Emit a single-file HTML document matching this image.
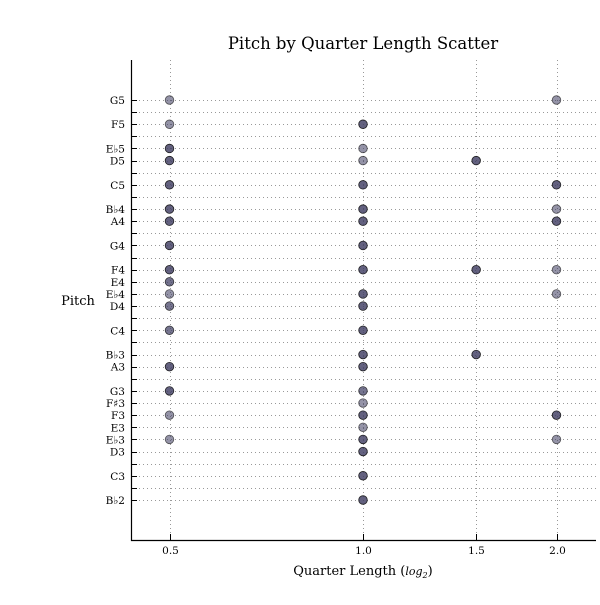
<!DOCTYPE html>
<html><head><meta charset="utf-8"><style>
body{margin:0;background:#fff}
text{font-family:"DejaVu Serif","Liberation Serif",serif;fill:#000}
</style></head><body>
<svg id="chart" width="600" height="600">
<text x="363" y="49" font-size="16.5" text-anchor="middle">Pitch by Quarter Length Scatter</text>
<text x="78" y="305" font-size="13" text-anchor="middle">Pitch</text>
<text x="363" y="575" font-size="13" text-anchor="middle">Quarter Length (<tspan font-style="italic" font-size="11">log</tspan><tspan font-style="italic" font-size="8" dy="3">2</tspan><tspan dy="-3">)</tspan></text>
<g id="grid"></g><g id="pts"></g><g id="axes"></g>
</svg>
<script>
const xTicks=[0.5,1.0,1.5,2.0];
const xTickLabels=["0.5","1.0","1.5","2.0"];
const pitchMidi=[79,77,75,74,72,70,69,67,65,64,63,62,60,58,57,55,54,53,52,51,50,48,46];
const pitchNames=["G5","F5","E♭5","D5","C5","B♭4","A4","G4","F4","E4","E♭4","D4","C4","B♭3","A3","G3","F♯3","F3","E3","E♭3","D3","C3","B♭2"];
const pointPitch=[79,79,77,77,75,75,74,74,74,72,72,72,70,70,70,69,69,69,67,67,65,65,65,65,64,63,63,63,62,62,60,60,58,58,57,57,55,55,54,53,53,53,52,51,51,51,50,48,46];
const pointQL=[0.5,2,0.5,1,0.5,1,0.5,1,1.5,0.5,1,2,0.5,1,2,0.5,1,2,0.5,1,0.5,1,1.5,2,0.5,0.5,1,2,0.5,1,0.5,1,1,1.5,0.5,1,0.5,1,1,0.5,1,2,1,0.5,1,2,1,1,1];
const pointAlpha=[0.55,0.55,0.55,0.8,0.8,0.55,0.8,0.55,0.8,0.8,0.8,0.8,0.8,0.8,0.55,0.8,0.8,0.8,0.8,0.8,0.8,0.8,0.8,0.55,0.72,0.55,0.8,0.55,0.7,0.8,0.7,0.8,0.8,0.8,0.8,0.8,0.8,0.7,0.55,0.55,0.8,0.8,0.55,0.55,0.8,0.55,0.8,0.8,0.8];
const L=131,R=596,T=60,B=540;
const xS=v=>363+193.5*Math.log2(v);
const yS=m=>500-(m-46)*(400/33);
const NS="http://www.w3.org/2000/svg";
function mk(t,a,p){const e=document.createElementNS(NS,t);for(const k in a)e.setAttribute(k,a[k]);p.appendChild(e);return e;}
const grid=document.getElementById('grid'),pts=document.getElementById('pts'),axes=document.getElementById('axes');
for(let m=46;m<=79;m++){
  const y=Math.round(yS(m))+0.5;
  const g=mk('line',{x1:L,x2:R,y1:y,y2:y,stroke:'#999','stroke-dasharray':'1,3','stroke-width':1},grid);
  
  
  const t=mk('line',{x1:L,x2:L+6,y1:y,y2:y,stroke:'#000'},axes);
  
  
}
pitchMidi.forEach((m,i)=>{
  const t=mk('text',{x:125,y:yS(m)+4,'font-size':10.5,'text-anchor':'end'},axes);
  t.textContent=pitchNames[i];
  
  
});
xTicks.forEach((v,i)=>{
  const x=Math.round(xS(v))+0.5;
  const g=mk('line',{x1:x,x2:x,y1:T,y2:B,stroke:'#999','stroke-dasharray':'1,3'},grid);
  
  
  const tk=mk('line',{x1:x,x2:x,y1:B-6,y2:B,stroke:'#000'},axes);
  
  
  const t=mk('text',{x:x,y:554,'font-size':10.5,'text-anchor':'middle'},axes);
  t.textContent=xTickLabels[i];
  
  
});
const ax=mk('path',{d:`M${L}.5 ${T} V${B}.5 H${R}`,stroke:'#000',fill:'none','stroke-width':1.2},axes);


pointPitch.forEach((m,i)=>{
  const c=mk('circle',{cx:xS(pointQL[i]),cy:yS(m),r:4.3,fill:'rgb(60,58,95)','fill-opacity':pointAlpha[i],stroke:'#111','stroke-opacity':Math.min(1,pointAlpha[i]+0.1),'stroke-width':0.8},pts);
  
  
});
</script>
</body></html>
